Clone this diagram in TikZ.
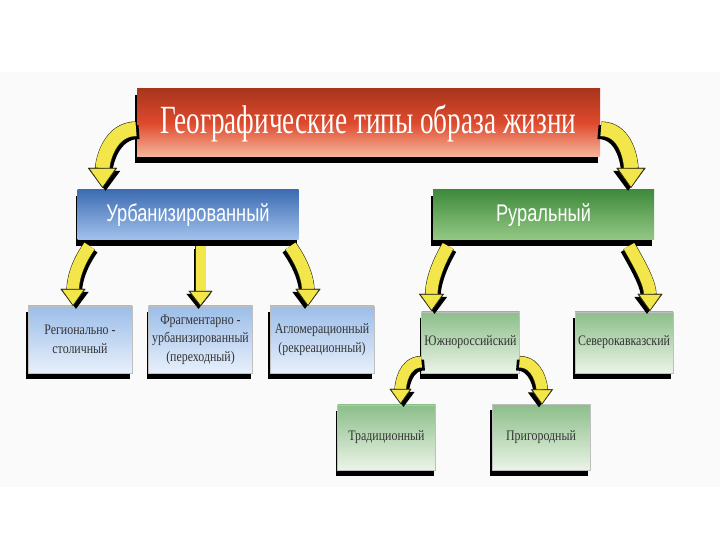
\documentclass[tikz,border=0pt]{standalone}
\usepackage{fontspec}
\setmainfont{Liberation Serif}
\newfontfamily\titlefont[FakeStretch=0.68]{Liberation Serif}
\newfontfamily\headfont[FakeStretch=0.76]{Liberation Sans}
\newfontfamily\leaffont[FakeStretch=0.82]{Liberation Serif}
\usetikzlibrary{arrows.meta, positioning, calc, shadows}
\definecolor{titletop}{HTML}{A8361C}
\definecolor{titlemid}{HTML}{DE4A2E}
\definecolor{titlebot}{HTML}{F7B79C}
\definecolor{urbtop}{HTML}{3D6CB2}
\definecolor{urbbot}{HTML}{A3C3EE}
\definecolor{rurtop}{HTML}{3F8A3C}
\definecolor{rurbot}{HTML}{94C985}
\definecolor{bluetop}{HTML}{9BBDE9}
\definecolor{bluebot}{HTML}{E8F0FB}
\definecolor{greentop}{HTML}{8CBE8A}
\definecolor{greenbot}{HTML}{EBF4E7}
\definecolor{arrowfill}{HTML}{F2E64A}
\definecolor{arrowline}{HTML}{2B2B10}
\tikzset{
  box/.style={rectangle, inner sep=2pt, outer sep=0pt, align=center,
    general shadow={fill=black, shadow xshift=-2pt, shadow yshift=-6pt}}, % black bar under each box
  titlebox/.style={box, minimum width=463pt, minimum height=68pt,
    top color=titletop, bottom color=titlebot, middle color=titlemid,
    text=white, font=\titlefont\fontsize{40}{48}\selectfont},
  typebox/.style={box, minimum width=221pt, minimum height=50pt,
    text=white, font=\headfont\fontsize{24}{28}\selectfont},
  subbox/.style={box, draw=black!25, line width=0.4pt,
    minimum width=104pt, minimum height=67pt,
    text=black!80, font=\leaffont\fontsize{14.5}{18.5}\selectfont},
  bluesub/.style={subbox, top color=bluetop, bottom color=bluebot},
  greensub/.style={subbox, top color=greentop, bottom color=greenbot,
    minimum width=98pt, minimum height=61pt},
  % yellow block arrow: shaft, tip width, tip length, shadow shift
  yarrow/.style n args={4}{
    draw=arrowfill, line width=#1,
    -{Triangle[width=#2, length=#3, fill=arrowfill, color=arrowline, line width=0.6pt]},
    preaction={draw=black, line width=#1, -{Triangle[width=#2, length=#3]},
      transform canvas={shift={(#4,-3pt)}}},
    preaction={draw=arrowline, line width=#1+1.2pt, -{Triangle[width=#2, length=#3]}}
  },
  bigleft/.style={yarrow={14pt}{28pt}{20pt}{3pt}},
  bigright/.style={yarrow={14pt}{28pt}{20pt}{-3pt}},
  midleft/.style={yarrow={12pt}{24pt}{17pt}{3pt}},
  midright/.style={yarrow={12pt}{24pt}{17pt}{-3pt}},
  smallleft/.style={yarrow={11pt}{21pt}{15pt}{3pt}},
  smallright/.style={yarrow={11pt}{21pt}{15pt}{-3pt}},
}
\begin{document}
\begin{tikzpicture}[x=1pt, y=1pt]
    \useasboundingbox (0,0) rectangle (720,540);
    \fill[black!2] (0,53) rectangle (720,468);

    \node[titlebox] (title) at (368.5,417) {Географические типы образа жизни};
    \node[typebox, top color=urbtop, bottom color=urbbot,
      below of=title, node distance=92pt, xshift=-180.5pt] (urban) {Урбанизированный};
    \node[typebox, top color=rurtop, bottom color=rurbot,
      right of=urban, node distance=355.5pt] (rural) {Руральный};

    \node[bluesub, below of=urban, node distance=124.5pt, xshift=-108pt] (capital) {Регионально -\\столичный};
    \node[bluesub, right of=capital, node distance=120.5pt] (fragment) {Фрагментарно -\\урбанизированный\\(переходный)};
    \node[bluesub, right of=fragment, node distance=121.5pt] (agglo) {Агломерационный\\(рекреационный)};

    \node[greensub, below of=rural, node distance=127.5pt, xshift=-73pt] (south) {Южнороссийский};
    \node[greensub, right of=south, node distance=153.5pt] (caucasus) {Северокавказский};
    \node[greensub, below of=south, node distance=95pt, xshift=-84pt,
      minimum height=65pt] (tradition) {Традиционный};
    \node[greensub, right of=tradition, node distance=154.5pt,
      minimum height=66pt] (suburb) {Пригородный};

    \path
    ($(title.west)+(-1,-6)$) edge[bigleft, out=180, in=90] ($(urban.north west)+(25,2)$)
    ($(title.east)+(1,-6)$) edge[bigright, out=0, in=90] ($(rural.north east)+(-23,2)$)
    ($(urban.south west)+(12,-6)$) edge[midleft, out=235, in=90] ($(capital.north)+(-7,0)$)
    ($(fragment.north |- urban.south)+(0,-6)$) edge[yarrow={10pt}{23pt}{15pt}{-2pt}] (fragment.north)
    ($(urban.south east)+(-8,-6)$) edge[midright, out=305, in=90] ($(agglo.north west)+(38,0)$)
    ($(rural.south west)+(15,-6)$) edge[midleft, out=240, in=90] ($(south.north west)+(10,1)$)
    ($(rural.south east)+(-25,-6)$) edge[midright, out=300, in=90] ($(caucasus.north east)+(-23,1)$)
    ($(south.south west)+(0,11)$) edge[smallleft, out=180, in=90] ($(tradition.north west)+(63,1)$)
    ($(south.south east)+(0,11)$) edge[smallright, out=0, in=90] ($(suburb.north)+(1,0)$)
    ;

\end{tikzpicture}
\end{document}
